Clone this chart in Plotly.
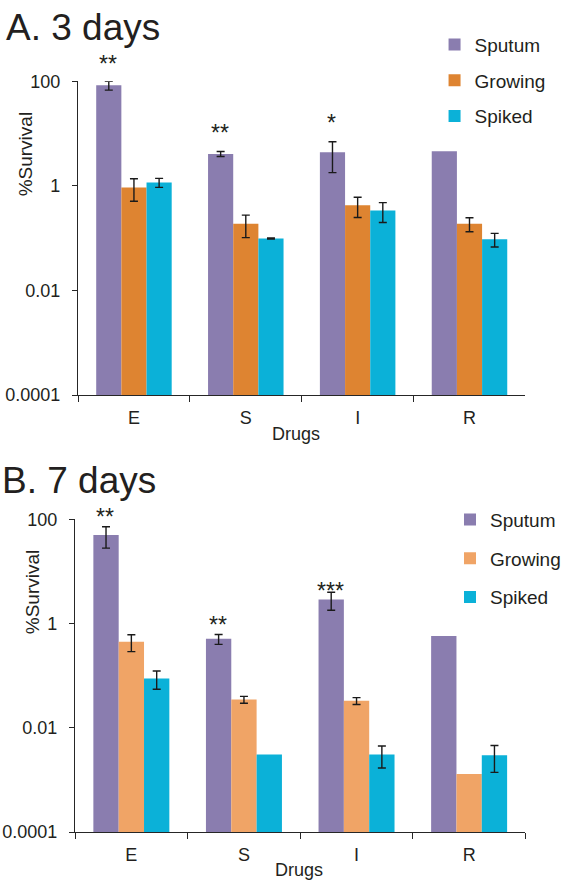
import plotly.graph_objects as go

# ---------------- data ----------------
drugs = ["E", "S", "I", "R"]
series_names = ["Sputum", "Growing", "Spiked"]
NO_ERR = "NaN"  # no error bar shown for this bar

# A. 3 days
a_sputum = [84, 4.1, 4.4, 4.6]
a_sputum_err = [16, 0.45, 2.6, NO_ERR]
a_growing = [0.94, 0.19, 0.43, 0.19]
a_growing_err = [0.43, 0.087, 0.18, 0.057]
a_spiked = [1.17, 0.099, 0.34, 0.096]
a_spiked_err = [0.23, 0.002, 0.14, 0.028]
a_stars = ["**", "**", "*", ""]

# B. 7 days
b_sputum = [50, 0.51, 2.9, 0.58]
b_sputum_err = [22, 0.11, 1.1, NO_ERR]
b_growing = [0.45, 0.035, 0.033, 0.0013]
b_growing_err = [0.16, 0.0053, 0.005, NO_ERR]
b_spiked = [0.089, 0.0031, 0.0031, 0.003]
b_spiked_err = [0.034, NO_ERR, 0.0014, 0.0016]
b_stars = ["**", "**", "***", ""]

y_tickvals = [0.0001, 0.01, 1, 100]
y_ticktext = ["0.0001", "0.01", "1", "100"]

# ---------------- styles ----------------
W, H = 566, 893
FONT = "Liberation Sans, Arial, sans-serif"
TXT = "#231f20"
AXC = "#262626"
c_sputum = "#8a7daf"
c_growing_a = "#de8431"
c_growing_b = "#f0a466"
c_spiked = "#0bb1d8"


def px_x(x):
    return x / W


def px_y(y):
    return 1 - y / H


fig = go.Figure()


def add_panel(vals_list, errs_list, colors, xa, ya, legend, gid):
    for name, vals, errs, col in zip(series_names, vals_list, errs_list, colors):
        fig.add_trace(go.Bar(
            x=drugs, y=vals, name=name, marker=dict(color=col, line=dict(width=0)),
            error_y=dict(type="data", array=errs, visible=True, color="#1a1a1a",
                         thickness=1.4, width=4),
            xaxis=xa, yaxis=ya, legend=legend, legendgroup=gid + name,
            hoverinfo="skip",
        ))


add_panel([a_sputum, a_growing, a_spiked], [a_sputum_err, a_growing_err, a_spiked_err],
          [c_sputum, c_growing_a, c_spiked], "x", "y", "legend", "a")
add_panel([b_sputum, b_growing, b_spiked], [b_sputum_err, b_growing_err, b_spiked_err],
          [c_sputum, c_growing_b, c_spiked], "x2", "y2", "legend2", "b")

xaxis_common = dict(
    type="category", categoryorder="array", categoryarray=drugs,
    showline=True, linecolor=AXC, linewidth=1.3, ticks="outside", ticklen=6,
    tickcolor=AXC, tickwidth=1.3, tickson="boundaries", showgrid=False,
    zeroline=False, tickfont=dict(size=18, color=TXT, family=FONT),
    ticklabelstandoff=6, fixedrange=True,
)
yaxis_common = dict(
    type="log", range=[-4, 2], tickvals=y_tickvals, ticktext=y_ticktext,
    showline=True, linecolor=AXC, linewidth=1.3, ticks="outside", ticklen=5,
    tickcolor=AXC, tickwidth=1.3, showgrid=False, zeroline=False,
    tickfont=dict(size=18, color=TXT, family=FONT), ticklabelstandoff=8,
    fixedrange=True,
)

fig.update_layout(
    width=W, height=H, margin=dict(l=0, r=0, t=0, b=0),
    paper_bgcolor="white", plot_bgcolor="white",
    font=dict(family=FONT, color=TXT),
    barmode="group", bargap=0.325, bargroupgap=0,
    showlegend=True,
    xaxis=dict(xaxis_common, domain=[px_x(79), px_x(532)], anchor="y"),
    yaxis=dict(yaxis_common, domain=[px_y(394), px_y(73)], anchor="x"),
    xaxis2=dict(xaxis_common, domain=[px_x(76), px_x(532)], anchor="y2"),
    yaxis2=dict(yaxis_common, domain=[px_y(841), px_y(521)], anchor="x2"),
    legend=dict(x=px_x(440), y=px_y(16), xanchor="left", yanchor="top",
                font=dict(size=19, color=TXT, family=FONT), bgcolor="rgba(0,0,0,0)",
                tracegroupgap=8, itemclick=False, itemdoubleclick=False),
    legend2=dict(x=px_x(456), y=px_y(502), xanchor="left", yanchor="top",
                 font=dict(size=19, color=TXT, family=FONT), bgcolor="rgba(0,0,0,0)",
                 tracegroupgap=11, itemclick=False, itemdoubleclick=False),
)

annotations = []
# panel titles
annotations.append(dict(text="A. 3 days", x=px_x(4), y=px_y(18), xref="paper", yref="paper",
                        xanchor="left", yanchor="middle", showarrow=False,
                        font=dict(size=37, color=TXT, family=FONT)))
annotations.append(dict(text="B. 7 days", x=px_x(0), y=px_y(481), xref="paper", yref="paper",
                        xanchor="left", yanchor="middle", showarrow=False,
                        font=dict(size=37, color=TXT, family=FONT)))
# axis titles
for xc, yc in [(26, 148), (33, 596)]:
    annotations.append(dict(text="%Survival", x=px_x(xc), y=px_y(yc), xref="paper", yref="paper",
                            xanchor="center", yanchor="middle", textangle=-90, showarrow=False,
                            font=dict(size=19, color=TXT, family=FONT)))
for xc, yc in [(300, 434), (303, 880)]:
    annotations.append(dict(text="Drugs", x=px_x(xc), y=px_y(yc), xref="paper", yref="paper",
                            xanchor="center", yanchor="middle", showarrow=False,
                            font=dict(size=18, color=TXT, family=FONT)))
# significance stars
a_star_y = [55, 126, 116, 0]
b_star_y = [519, 629, 594, 0]
for i, (s, yy) in enumerate(zip(a_stars, a_star_y)):
    if s:
        annotations.append(dict(text=s, x=i - 0.23, y=px_y(yy), xref="x", yref="paper",
                                xanchor="center", yanchor="middle", showarrow=False,
                                font=dict(size=23, color=TXT, family=FONT)))
for i, (s, yy) in enumerate(zip(b_stars, b_star_y)):
    if s:
        annotations.append(dict(text=s, x=i - 0.23, y=px_y(yy), xref="x2", yref="paper",
                                xanchor="center", yanchor="middle", showarrow=False,
                                font=dict(size=23, color=TXT, family=FONT)))
fig.update_layout(annotations=annotations)

fig.write_html("out.html", config={"displayModeBar": False})

# remove default page margin so the figure sits exactly in the 566x893 window
with open("out.html", "r", encoding="utf-8") as f:
    html = f.read()
html = html.replace(
    "<head>",
    "<head><style>html,body{margin:0;padding:0;overflow:hidden;width:566px;height:893px;}</style>",
    1,
)
with open("out.html", "w", encoding="utf-8") as f:
    f.write(html)
